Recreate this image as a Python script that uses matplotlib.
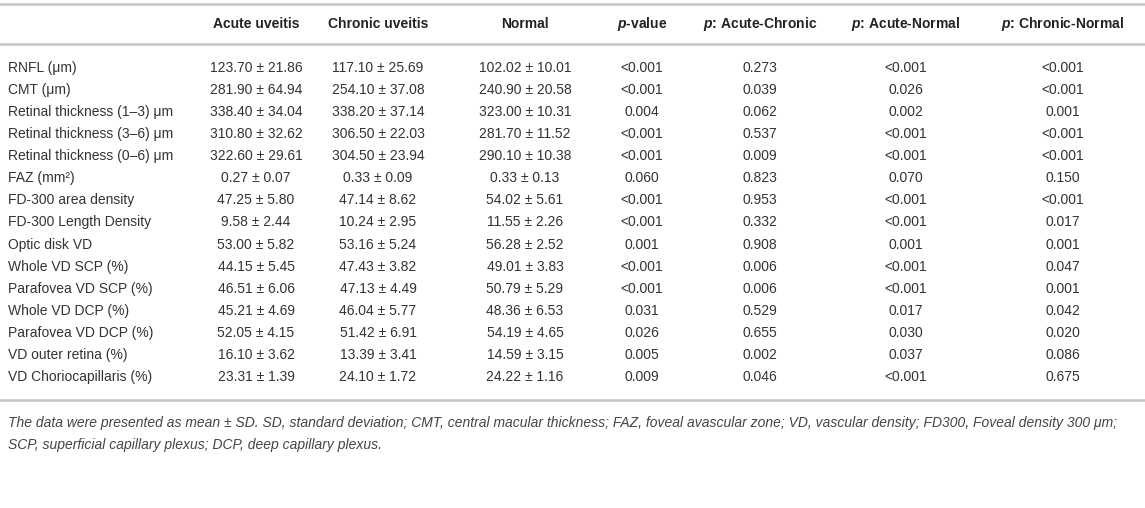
import matplotlib
matplotlib.use("Agg")
import matplotlib.pyplot as plt

plt.rcParams['font.family'] = ['Liberation Sans', 'DejaVu Sans']
plt.rcParams['mathtext.fontset'] = 'custom'
plt.rcParams['mathtext.it'] = 'Liberation Sans:italic:bold'
plt.rcParams['mathtext.rm'] = 'Liberation Sans:bold'

# table data
headers = ["Acute uveitis", "Chronic uveitis", "Normal", "$p$-value",
           "$p$: Acute-Chronic", "$p$: Acute-Normal", "$p$: Chronic-Normal"]
row_labels = ["RNFL (\u03bcm)", "CMT (\u03bcm)", "Retinal thickness (1\u20133) \u03bcm",
              "Retinal thickness (3\u20136) \u03bcm", "Retinal thickness (0\u20136) \u03bcm",
              "FAZ (mm\u00b2)", "FD-300 area density", "FD-300 Length Density",
              "Optic disk VD", "Whole VD SCP (%)", "Parafovea VD SCP (%)",
              "Whole VD DCP (%)", "Parafovea VD DCP (%)", "VD outer retina (%)",
              "VD Choriocapillaris (%)"]
acute_mean = [123.70, 281.90, 338.40, 310.80, 322.60, 0.27, 47.25, 9.58, 53.00,
              44.15, 46.51, 45.21, 52.05, 16.10, 23.31]
acute_sd = [21.86, 64.94, 34.04, 32.62, 29.61, 0.07, 5.80, 2.44, 5.82,
            5.45, 6.06, 4.69, 4.15, 3.62, 1.39]
chronic_mean = [117.10, 254.10, 338.20, 306.50, 304.50, 0.33, 47.14, 10.24, 53.16,
                47.43, 47.13, 46.04, 51.42, 13.39, 24.10]
chronic_sd = [25.69, 37.08, 37.14, 22.03, 23.94, 0.09, 8.62, 2.95, 5.24,
              3.82, 4.49, 5.77, 6.91, 3.41, 1.72]
normal_mean = [102.02, 240.90, 323.00, 281.70, 290.10, 0.33, 54.02, 11.55, 56.28,
               49.01, 50.79, 48.36, 54.19, 14.59, 24.22]
normal_sd = [10.01, 20.58, 10.31, 11.52, 10.38, 0.13, 5.61, 2.26, 2.52,
             3.83, 5.29, 6.53, 4.65, 3.15, 1.16]
p_value = ["<0.001", "<0.001", "0.004", "<0.001", "<0.001", "0.060", "<0.001", "<0.001",
           "0.001", "<0.001", "<0.001", "0.031", "0.026", "0.005", "0.009"]
p_acute_chronic = ["0.273", "0.039", "0.062", "0.537", "0.009", "0.823", "0.953", "0.332",
                   "0.908", "0.006", "0.006", "0.529", "0.655", "0.002", "0.046"]
p_acute_normal = ["<0.001", "0.026", "0.002", "<0.001", "<0.001", "0.070", "<0.001", "<0.001",
                  "0.001", "<0.001", "<0.001", "0.017", "0.030", "0.037", "<0.001"]
p_chronic_normal = ["<0.001", "<0.001", "0.001", "<0.001", "<0.001", "0.150", "<0.001", "0.017",
                    "0.001", "0.047", "0.001", "0.042", "0.020", "0.086", "0.675"]
footnote = ["The data were presented as mean \u00b1 SD. SD, standard deviation; CMT, central macular "
            "thickness; FAZ, foveal avascular zone; VD, vascular density; FD300, Foveal density 300 \u03bcm;",
            "SCP, superficial capillary plexus; DCP, deep capillary plexus."]

fig = plt.figure(figsize=(11.45, 5.08), dpi=100)
ax = fig.add_axes([0, 0, 1, 1])
ax.set_xlim(0, 1145)
ax.set_ylim(508, 0)
ax.axis("off")

txt = "#333333"
line = "#c4c4c4"
col_x = [256, 378, 525, 642, 760, 906, 1063]
header_y = 24
row_y0 = 68
row_h = 22.07

# rules
ax.plot([0, 1145], [4, 4], color=line, lw=1.8)
ax.plot([0, 1145], [44, 44], color=line, lw=1.8)
ax.plot([0, 1145], [400, 400], color=line, lw=1.8)

for x, h in zip(col_x, headers):
    ax.text(x, header_y, h, ha="center", va="center", fontsize=10,
            fontweight="bold", color="#222222")

cols = []
cols.append(["%.2f \u00b1 %.2f" % (m, s) for m, s in zip(acute_mean, acute_sd)])
cols.append(["%.2f \u00b1 %.2f" % (m, s) for m, s in zip(chronic_mean, chronic_sd)])
cols.append(["%.2f \u00b1 %.2f" % (m, s) for m, s in zip(normal_mean, normal_sd)])
cols.append(p_value)
cols.append(p_acute_chronic)
cols.append(p_acute_normal)
cols.append(p_chronic_normal)

for i, lab in enumerate(row_labels):
    y = row_y0 + i * row_h
    ax.text(8, y, lab, ha="left", va="center", fontsize=10, color=txt)
    for x, c in zip(col_x, cols):
        ax.text(x, y, c[i], ha="center", va="center", fontsize=10, color=txt)

for j, f in enumerate(footnote):
    ax.text(8, 423 + j * 22, f, ha="left", va="center", fontsize=10,
            style="italic", color="#444444")

fig.savefig("out.png", dpi=100)
